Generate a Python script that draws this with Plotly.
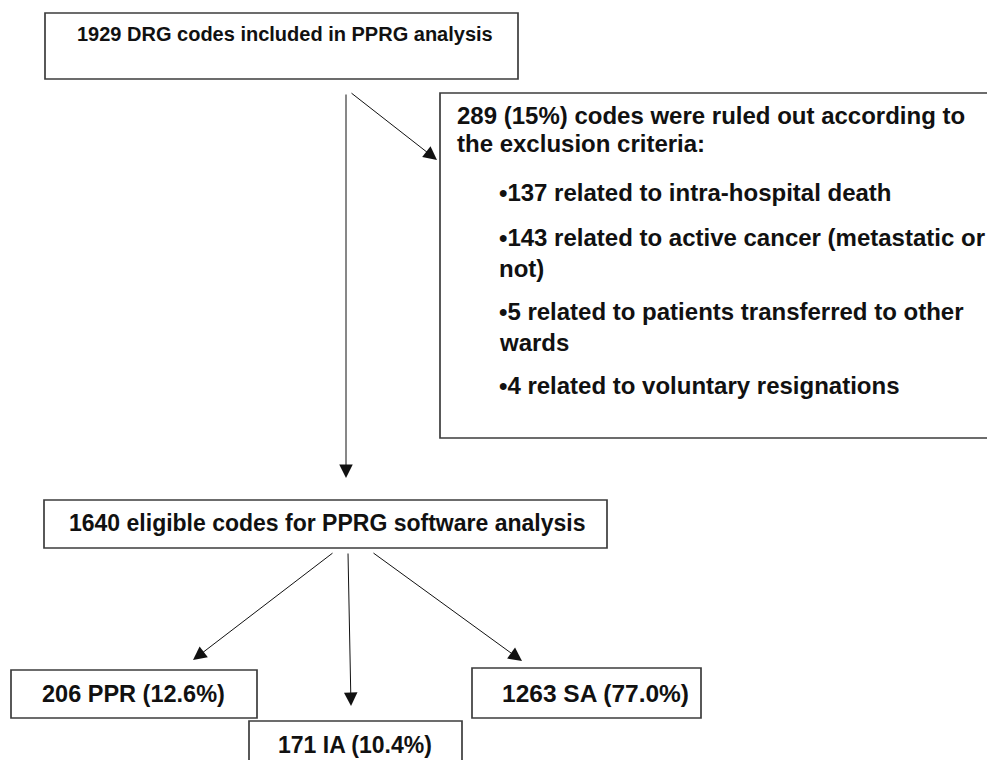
import plotly.graph_objects as go

# ---- content (text of the flowchart) ----
top_text = "1929 DRG codes included in PPRG analysis"
excl_lines = [
    "289 (15%) codes were ruled out according to",
    "the exclusion criteria:",
    "•137 related to intra-hospital death",
    "•143 related to active cancer (metastatic or",
    "not)",
    "•5 related to patients transferred to other",
    "wards",
    "•4 related to voluntary resignations",
]
eligible_text = "1640 eligible codes for PPRG software analysis"
outcome_texts = ["206 PPR (12.6%)", "171 IA (10.4%)", "1263 SA (77.0%)"]

# ---- layout geometry (page pixels, y downward) ----
W, H = 995, 760
OFF = 8  # page body margin compensation
boxes = [  # x0, y0, x1, y1
    (45, 13, 518, 79),      # top
    (440, 93, 1010, 438),   # exclusion
    (44, 500, 607, 548),    # eligible
    (11, 670, 257, 718),    # PPR
    (249, 721, 462, 790),   # IA
    (472, 668, 701, 718),   # SA
]
excl_x = [455, 455, 497, 497, 497, 497, 497, 497]
excl_y = [115, 143, 192, 237, 268, 311, 342, 385]
arrows = [  # tail (x,y) -> head (x,y)
    ((350, 92), (437, 160)),
    ((346, 93), (346, 478)),
    ((334, 552), (193, 660)),
    ((348, 552), (351, 706)),
    ((372, 552), (522, 661)),
]

def font(size):
    return dict(family="Liberation Sans, Arial, sans-serif", size=size, color="#111111", weight="bold")

fig = go.Figure()
fig.add_trace(go.Scatter(x=[OFF, W], y=[OFF, H], mode="markers", marker=dict(opacity=0),
                         hoverinfo="skip", showlegend=False))

for (x0, y0, x1, y1) in boxes:
    fig.add_shape(type="rect", x0=x0, y0=y0, x1=x1, y1=y1, xref="x", yref="y",
                  line=dict(color="#3c3c3c", width=1.7), fillcolor="white", layer="below")

ann = []
ann.append(dict(x=75, y=34, text=top_text, xanchor="left", yanchor="middle", font=font(20)))
for t, xx, yy in zip(excl_lines, excl_x, excl_y):
    ann.append(dict(x=xx, y=yy, text=t, xanchor="left", yanchor="middle", font=font(24)))
ann.append(dict(x=327, y=523, text=eligible_text, xanchor="center", yanchor="middle", font=font(23)))
centers = [(133, 694), (355, 745), (595, 693)]
sizes = [23.5, 23, 24.5]
for t, (cx, cy), s in zip(outcome_texts, centers, sizes):
    ann.append(dict(x=cx, y=cy, text=t, xanchor="center", yanchor="middle", font=font(s)))

for a in ann:
    fig.add_annotation(xref="x", yref="y", showarrow=False, **a)

for (tx, ty), (hx, hy) in arrows:
    fig.add_annotation(x=hx, y=hy, ax=tx, ay=ty, xref="x", yref="y", axref="x", ayref="y",
                       text="", showarrow=True, arrowhead=2, arrowsize=2.7, arrowwidth=1,
                       arrowcolor="#111111", standoff=0)

fig.update_layout(
    width=W - OFF, height=H, margin=dict(l=0, r=0, t=0, b=0),
    paper_bgcolor="white", plot_bgcolor="white", showlegend=False,
    xaxis=dict(range=[OFF, W], visible=False, fixedrange=True),
    yaxis=dict(range=[H + OFF, OFF], visible=False, fixedrange=True),
)
fig.write_html("out.html")
